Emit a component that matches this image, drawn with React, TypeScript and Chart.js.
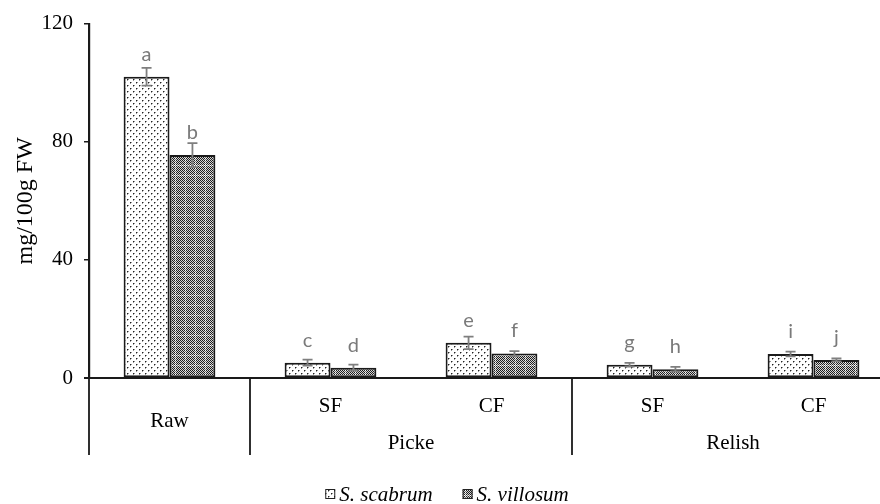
import { useEffect, useRef } from 'react';
import { Chart, registerables } from 'chart.js';

Chart.register(...registerables);

const categories = ['Raw', 'SF', 'CF', 'SF', 'CF'];
const groupLabels = ['', 'Picke', 'Relish'];
const groupStart = [0, 1, 3];
const groupEnd = [0, 2, 4];
const seriesNames = ['S. scabrum', 'S. villosum'];
const scabrum = [102, 5.2, 11.9, 4.5, 8.1];
const scabrumErr = [3, 1, 2.1, 0.6, 0.8];
const villosum = [75.5, 3.5, 8.3, 3.0, 6.1];
const villosumErr = [4, 1, 0.8, 0.8, 0.5];
const scabrumLetters = ['a', 'c', 'e', 'g', 'i'];
const villosumLetters = ['b', 'd', 'f', 'h', 'j'];
const yTicks = [0, 40, 80, 120];

const SERIF = '"Liberation Serif", "Times New Roman", serif';
const SANS = 'Lato, "Open Sans", sans-serif';

function makeDots(): CanvasPattern {
  const c = document.createElement('canvas');
  c.width = 6;
  c.height = 6;
  const g = c.getContext('2d')!;
  g.fillStyle = '#ffffff';
  g.fillRect(0, 0, 6, 6);
  g.fillStyle = '#222222';
  g.fillRect(1, 1, 1, 1);
  g.fillRect(4, 4, 1, 1);
  g.fillStyle = '#9a9a9a';
  g.fillRect(2, 1, 1, 1);
  g.fillRect(1, 2, 1, 1);
  g.fillRect(5, 4, 1, 1);
  g.fillRect(4, 5, 1, 1);
  return g.createPattern(c, 'repeat')!;
}

function makeCheck(): CanvasPattern {
  const n = 10;
  const c = document.createElement('canvas');
  c.width = n;
  c.height = n;
  const g = c.getContext('2d')!;
  for (let yy = 0; yy < n; yy++) {
    for (let xx = 0; xx < n; xx++) {
      let col = (xx + yy) % 2 === 0 ? '#1e1e1e' : '#d4d4d4';
      if (xx === 5 || yy === 5) col = (xx + yy) % 2 === 0 ? '#707070' : '#ffffff';
      g.fillStyle = col;
      g.fillRect(xx, yy, 1, 1);
    }
  }
  return g.createPattern(c, 'repeat')!;
}

export default function App() {
  const ref = useRef<HTMLCanvasElement | null>(null);

  useEffect(() => {
    if (!ref.current) return;
    const dots = makeDots();
    const check = makeCheck();
    const fills = [dots, check];
    const vals = [scabrum, villosum];
    const errs = [scabrumErr, villosumErr];
    const letters = [scabrumLetters, villosumLetters];

    const custom = {
      id: 'custom',
      afterDatasetsDraw(chart: any) {
        const ctx = chart.ctx as CanvasRenderingContext2D;
        const y = chart.scales.y;
        ctx.save();
        for (let di = 0; di < 2; di++) {
          const meta = chart.getDatasetMeta(di);
          meta.data.forEach((bar: any, i: number) => {
            const v = vals[di][i];
            const e = errs[di][i];
            const yt = y.getPixelForValue(v + e);
            const yb = y.getPixelForValue(v - e);
            ctx.strokeStyle = '#7f7f7f';
            ctx.lineWidth = 1.8;
            ctx.beginPath();
            ctx.moveTo(bar.x, yt);
            ctx.lineTo(bar.x, yb);
            ctx.moveTo(bar.x - 5, yt);
            ctx.lineTo(bar.x + 5, yt);
            ctx.moveTo(bar.x - 5, yb);
            ctx.lineTo(bar.x + 5, yb);
            ctx.stroke();
            ctx.fillStyle = '#7a7a7a';
            ctx.font = `20px ${SANS}`;
            ctx.textAlign = 'center';
            ctx.textBaseline = 'alphabetic';
            ctx.fillText(letters[di][i], bar.x, bar.y - 16);
          });
        }
        ctx.restore();
      },
      afterDraw(chart: any) {
        const ctx = chart.ctx as CanvasRenderingContext2D;
        const x = chart.scales.x;
        const y = chart.scales.y;
        const y0 = y.getPixelForValue(0);
        const boundary = (i: number) => {
          if (i <= 0) return x.left;
          if (i >= categories.length) return x.right;
          return (x.getPixelForValue(i - 1) + x.getPixelForValue(i)) / 2;
        };
        ctx.save();
        ctx.strokeStyle = '#1a1a1a';
        ctx.lineWidth = 2.2;
        ctx.beginPath();
        ctx.moveTo(x.left - 5, y0);
        ctx.lineTo(chart.width, y0);
        ctx.stroke();
        ctx.lineWidth = 1.8;
        ctx.beginPath();
        for (let gi = 0; gi < groupLabels.length; gi++) {
          const bx = boundary(groupStart[gi]);
          ctx.moveTo(bx, y0);
          ctx.lineTo(bx, y0 + 77);
        }
        const ex = boundary(categories.length);
        ctx.moveTo(ex, y0);
        ctx.lineTo(ex, y0 + 77);
        ctx.stroke();

        ctx.fillStyle = '#000';
        ctx.textAlign = 'center';
        ctx.textBaseline = 'alphabetic';
        ctx.font = `21px ${SERIF}`;
        for (let gi = 0; gi < groupLabels.length; gi++) {
          const single = groupLabels[gi] === '';
          for (let i = groupStart[gi]; i <= groupEnd[gi]; i++) {
            ctx.fillText(categories[i], x.getPixelForValue(i), y0 + (single ? 49 : 34));
          }
          if (!single) {
            const cx = (boundary(groupStart[gi]) + boundary(groupEnd[gi] + 1)) / 2;
            ctx.fillText(groupLabels[gi], cx, y0 + 71);
          }
        }

        // legend
        ctx.font = `italic 21px ${SERIF}`;
        const box = 10;
        const gapBox = 4;
        const gapItem = 30;
        const widths = seriesNames.map((s) => ctx.measureText(s).width);
        const total = widths.reduce((a, w) => a + box + gapBox + w, 0) + gapItem * (seriesNames.length - 1);
        let lx = chart.width / 2 - total / 2;
        const base = chart.height - 3;
        ctx.textAlign = 'left';
        seriesNames.forEach((s, k) => {
          ctx.fillStyle = fills[k];
          ctx.fillRect(lx, base - 12, box, box);
          ctx.strokeStyle = '#222';
          ctx.lineWidth = 1;
          ctx.strokeRect(lx + 0.5, base - 11.5, box - 1, box - 1);
          ctx.fillStyle = '#000';
          ctx.fillText(s, lx + box + gapBox, base);
          lx += box + gapBox + widths[k] + gapItem;
        });
        ctx.restore();
      },
    };

    const chart = new Chart(ref.current, {
      type: 'bar',
      data: {
        labels: categories,
        datasets: [
          {
            label: seriesNames[0],
            data: scabrum,
            backgroundColor: dots as any,
            borderColor: '#1a1a1a',
            borderWidth: 2,
            borderSkipped: false,
            barPercentage: 1,
            categoryPercentage: 0.57,
          },
          {
            label: seriesNames[1],
            data: villosum,
            backgroundColor: check as any,
            borderColor: '#1a1a1a',
            borderWidth: 2,
            borderSkipped: false,
            barPercentage: 1,
            categoryPercentage: 0.57,
          },
        ],
      },
      options: {
        animation: false,
        responsive: true,
        maintainAspectRatio: false,
        events: [],
        layout: { padding: { top: 22, left: 0, right: 0, bottom: 0 } },
        plugins: {
          legend: { display: false },
          tooltip: { enabled: false },
        },
        scales: {
          x: {
            type: 'category',
            offset: true,
            ticks: { display: false },
            grid: { display: false },
            border: { display: false },
            afterFit: (s: any) => {
              s.height = 126;
            },
          },
          y: {
            min: 0,
            max: 120,
            afterBuildTicks: (s: any) => {
              s.ticks = yTicks.map((v) => ({ value: v }));
            },
            ticks: {
              color: '#000',
              font: { family: SERIF, size: 21 },
              padding: 11,
            },
            grid: {
              drawOnChartArea: false,
              drawTicks: true,
              tickLength: 5,
              color: '#1a1a1a',
              lineWidth: 1.5,
            },
            border: { display: true, color: '#1a1a1a', width: 2.2 },
            title: {
              display: true,
              text: 'mg/100g FW',
              color: '#000',
              font: { family: SERIF, size: 24 },
              padding: { top: 11, bottom: 0 },
            },
            afterFit: (s: any) => {
              s.width = 89;
            },
          },
        },
      },
      plugins: [custom],
    });
    return () => chart.destroy();
  }, []);

  return (
    <div
      style={{
        position: 'fixed',
        left: 0,
        top: 0,
        width: 880,
        height: 504,
        overflow: 'hidden',
        background: '#fff',
      }}
    >
      <div style={{ position: 'relative', width: 894, height: 504 }}>
        <canvas ref={ref} />
      </div>
    </div>
  );
}
